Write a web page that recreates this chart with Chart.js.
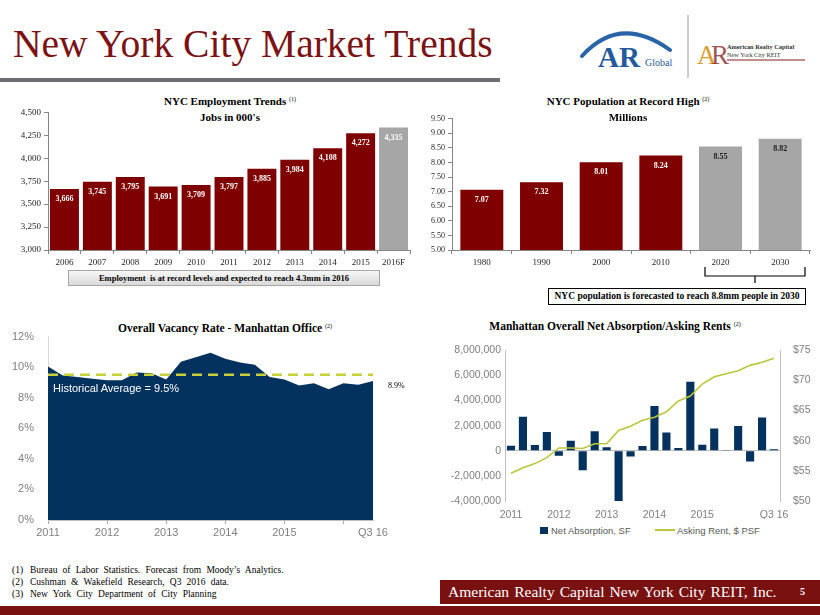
<!DOCTYPE html>
<html>
<head>
<meta charset="utf-8">
<script src="https://cdn.jsdelivr.net/npm/chart.js@4.4.1/dist/chart.umd.min.js"></script>
<style>
body { margin:0; width:820px; height:615px; position:relative; overflow:hidden; background:#fff; font-family:"Liberation Serif", serif; }
.abs { position:absolute; white-space:nowrap; }
.chart { position:absolute; }
.ctitle { position:absolute; font-weight:bold; font-size:11px; text-align:center; color:#000; white-space:nowrap; }
.ctitle sup { font-size:6px; font-weight:normal; vertical-align:4px; }
.note { position:absolute; left:12px; font-size:9.5px; word-spacing:2.8px; color:#000; white-space:nowrap; }
.note span { display:inline-block; width:18px; }
.legend { position:absolute; top:525px; font-family:"Liberation Sans", sans-serif; font-size:9.5px; color:#595959; white-space:nowrap; }
</style>
</head>
<body>

<div class="abs" style="left:13px;top:25px;font-size:39.5px;color:#7b1214;line-height:1;">New York City Market Trends</div>
<div class="abs" style="left:0;top:78px;width:500px;height:4px;background:#6d6e71;"></div>

<svg class="abs" style="left:570px;top:10px;" width="250" height="75" viewBox="570 10 250 75">
  <path d="M582,56 Q620,14 670,50" fill="none" stroke="#2a64a8" stroke-width="4" stroke-linecap="round"/>
  <text x="598" y="67" font-family="Liberation Serif" font-weight="bold" font-size="29" fill="#245a9c">AR</text>
  <text x="645" y="66" font-family="Liberation Serif" font-size="10" fill="#245a9c">Global</text>
  <line x1="688" y1="15" x2="688" y2="78" stroke="#9a9a9a" stroke-width="1"/>
  <text x="697" y="64" font-family="Liberation Serif" font-size="27" fill="#d6a236">A</text>
  <text x="711" y="64" font-family="Liberation Serif" font-size="27" fill="#8a2a2a" opacity="0.8">R</text>
  <text x="727" y="49" font-family="Liberation Serif" font-weight="bold" font-size="6.3" fill="#333">American Realty Capital</text>
  <text x="727" y="57" font-family="Liberation Serif" font-size="6.3" fill="#333">New York City REIT</text>
  <line x1="727" y1="60" x2="805" y2="60" stroke="#8a1c1c" stroke-width="1"/>
</svg>

<!-- top left -->
<div class="ctitle" style="left:120px;top:95px;width:220px;">NYC Employment Trends <sup>(1)</sup></div>
<div class="ctitle" style="left:120px;top:111px;width:220px;">Jobs in 000's</div>
<div class="chart" style="left:0;top:104px;width:412px;height:162px;"><canvas id="jobsChart"></canvas></div>
<div class="abs" style="left:68px;top:270px;width:310px;height:14px;border:1px solid #a6a6a6;background:linear-gradient(#f7f7f7,#d9d9d9);font-size:8.5px;font-weight:bold;text-align:center;line-height:14px;">Employment&nbsp; is at record levels and expected to reach 4.3mm in 2016</div>

<!-- top right -->
<div class="ctitle" style="left:518px;top:95px;width:220px;">NYC Population at Record High <sup>(2)</sup></div>
<div class="ctitle" style="left:518px;top:111px;width:220px;">Millions</div>
<div class="chart" style="left:400px;top:111px;width:412px;height:155px;"><canvas id="popChart"></canvas></div>
<svg class="abs" style="left:700px;top:262px;" width="110" height="26" viewBox="700 262 110 26">
  <path d="M705,267 L705,276 L805,276 L805,267 M755,276 L755,283" fill="none" stroke="#000" stroke-width="1.2"/>
</svg>
<div class="abs" style="left:548px;top:288px;width:256px;height:15px;border:1px solid #000;background:#fff;font-size:9.5px;font-weight:bold;text-align:center;line-height:15px;">NYC population is forecasted to reach 8.8mm people in 2030</div>

<!-- bottom left -->
<div class="ctitle" style="left:95px;top:322px;width:260px;font-size:11.5px;">Overall Vacancy Rate - Manhattan Office <sup>(2)</sup></div>
<div class="chart" style="left:0;top:324px;width:412px;height:216px;"><canvas id="vacChart"></canvas></div>
<div class="abs" style="left:53px;top:382px;font-family:'Liberation Sans',sans-serif;font-size:11px;color:#fff;">Historical Average = 9.5%</div>
<div class="abs" style="left:388px;top:381px;font-size:8px;color:#000;">8.9%</div>

<!-- bottom right -->
<div class="ctitle" style="left:475px;top:320px;width:280px;font-size:11.5px;">Manhattan Overall Net Absorption/Asking Rents <sup>(2)</sup></div>
<div class="chart" style="left:412px;top:339px;width:408px;height:180px;"><canvas id="absChart"></canvas></div>
<div class="legend" style="left:540px;"><span style="display:inline-block;width:8px;height:7px;background:#03325f;margin-right:3px;"></span>Net Absorption, SF</div>
<div class="legend" style="left:655px;"><span style="display:inline-block;width:20px;height:2px;background:#bcc63a;vertical-align:3px;margin-right:2px;"></span>Asking Rent, $ PSF</div>

<!-- footer -->
<div class="note" style="top:565px;"><span>(1)</span>Bureau of Labor Statistics. Forecast from Moody’s Analytics.</div>
<div class="note" style="top:577px;"><span>(2)</span>Cushman &amp; Wakefield Research, Q3 2016 data.</div>
<div class="note" style="top:589px;"><span>(3)</span>New York City Department of City Planning</div>
<div class="abs" style="left:440px;top:580px;width:380px;height:24px;background:#7a1111;color:#fff;font-size:15.5px;word-spacing:1.2px;line-height:24px;">
  <span style="margin-left:8px;">American Realty Capital New York City REIT, Inc.</span>
  <span style="position:absolute;left:360px;font-size:10px;font-weight:bold;">5</span>
</div>
<div class="abs" style="left:0;top:606px;width:820px;height:9px;background:#7a1111;"></div>

<script>
// employment, thousands of jobs
const jobYears = ["2006", "2007", "2008", "2009", "2010", "2011", "2012", "2013", "2014", "2015", "2016F"];
const jobs = [3666, 3745, 3795, 3691, 3709, 3797, 3885, 3984, 4108, 4272, 4335];

// population, millions
const popYears = ["1980", "1990", "2000", "2010", "2020", "2030"];
const population = [7.07, 7.32, 8.01, 8.24, 8.55, 8.82];

// quarterly, Q1 2011 .. Q3 2016
const quarterLabels = ["2011", "", "", "", "2012", "", "", "", "2013", "", "", "", "2014", "", "", "", "2015", "", "", "", "", "", "Q3 16"];
const vacancyRate = [10.05, 9.45, 9.35, 9.25, 9.15, 9.15, 9.65, 9.6, 9.2, 10.35, 10.65, 10.95, 10.55, 10.3, 10.15, 9.35, 9.2, 8.8, 8.95, 8.55, 8.95, 8.85, 9.1];
const historicalAvg = 9.5;
const netAbsorption = [400000, 2700000, 450000, 1500000, -400000, 800000, -1550000, 1550000, 280000, -4000000, -450000, 380000, 3570000, 1450000, 220000, 5500000, 480000, 1780000, 60000, 1980000, -850000, 2650000, 120000];
const askingRent = [54.6, 55.5, 56.2, 57.2, 58.8, 58.8, 58.7, 59.5, 59.5, 61.7, 62.4, 63.4, 63.9, 64.8, 66.6, 67.4, 69.4, 70.6, 71.1, 71.6, 72.5, 73.0, 73.7];

const RED = "#7f0000";
const GREY = "#a6a6a6";
const NAVY = "#03325f";
const LIME = "#c8cf3c";

Chart.defaults.font.family = "'Liberation Serif', serif";
Chart.defaults.animation = false;

function barLabels(colors, fmt, offset) {
    return {
        id: "barLabels",
        afterDatasetsDraw(chart) {
            const ctx = chart.ctx;
            const ds = chart.data.datasets[0];
            ctx.save();
            ctx.font = "bold 8px 'Liberation Serif'";
            ctx.textAlign = "center";
            ctx.textBaseline = "middle";
            chart.getDatasetMeta(0).data.forEach((bar, i) => {
                ctx.fillStyle = colors[i];
                ctx.fillText(fmt(ds.data[i]), bar.x, bar.y + offset);
            });
            ctx.restore();
        }
    };
}

function avgLine(value) {
    return {
        id: "avgLine",
        afterDatasetsDraw(chart) {
            const ctx = chart.ctx;
            const y = chart.scales.y.getPixelForValue(value);
            ctx.save();
            ctx.strokeStyle = LIME;
            ctx.lineWidth = 2.5;
            ctx.setLineDash([10, 6]);
            ctx.beginPath();
            ctx.moveTo(chart.chartArea.left, y);
            ctx.lineTo(chart.chartArea.right, y);
            ctx.stroke();
            ctx.restore();
        }
    };
}

const serifTick = { font: { size: 9 }, color: "#262626" };

// --- employment ---
const jobColors = jobYears.map((y) => (y.endsWith("F") ? GREY : RED));
new Chart(document.getElementById("jobsChart"), {
    type: "bar",
    data: {
        labels: jobYears,
        datasets: [{ data: jobs, backgroundColor: jobColors, categoryPercentage: 1, barPercentage: 0.88 }]
    },
    options: {
        responsive: true,
        maintainAspectRatio: false,
        layout: { padding: { top: 7, right: 2 } },
        plugins: { legend: { display: false }, tooltip: { enabled: false } },
        scales: {
            x: {
                grid: { drawOnChartArea: false, tickLength: 4, color: "#868686" },
                border: { color: "#868686" },
                ticks: serifTick,
                afterFit: (s) => { s.height = 16; }
            },
            y: {
                min: 3000, max: 4500,
                ticks: { ...serifTick, stepSize: 250 },
                grid: { drawOnChartArea: false, tickLength: 4, color: "#868686" },
                border: { color: "#868686" },
                afterFit: (s) => { s.width = 48; }
            }
        }
    },
    plugins: [barLabels(jobYears.map(() => "#fff"), (v) => v.toLocaleString("en-US"), 10)]
});

// --- population ---
const popColors = popYears.map((y) => (+y > 2015 ? GREY : RED));
new Chart(document.getElementById("popChart"), {
    type: "bar",
    data: {
        labels: popYears,
        datasets: [{ data: population, backgroundColor: popColors, categoryPercentage: 1, barPercentage: 0.72 }]
    },
    options: {
        responsive: true,
        maintainAspectRatio: false,
        layout: { padding: { top: 7, right: 2 } },
        plugins: { legend: { display: false }, tooltip: { enabled: false } },
        scales: {
            x: {
                grid: { drawOnChartArea: false, tickLength: 4, color: "#868686" },
                border: { color: "#868686" },
                ticks: serifTick,
                afterFit: (s) => { s.height = 16; }
            },
            y: {
                min: 5, max: 9.5,
                ticks: { ...serifTick, font: { size: 8 }, stepSize: 0.5, callback: (v) => v.toFixed(2) },
                grid: { drawOnChartArea: false, tickLength: 4, color: "#868686" },
                border: { color: "#868686" },
                afterFit: (s) => { s.width = 52; }
            }
        }
    },
    plugins: [barLabels(popColors.map((c) => (c === RED ? "#fff" : "#1a1a1a")), (v) => v.toFixed(2), 10)]
});

const sansTick = { font: { family: "'Liberation Sans', sans-serif", size: 11 }, color: "#7f7f7f" };

// --- vacancy ---
new Chart(document.getElementById("vacChart"), {
    type: "line",
    data: {
        labels: quarterLabels,
        datasets: [{ data: vacancyRate, fill: "origin", backgroundColor: NAVY, borderWidth: 0, pointRadius: 0, tension: 0 }]
    },
    options: {
        responsive: true,
        maintainAspectRatio: false,
        layout: { padding: { top: 7, right: 39 } },
        plugins: { legend: { display: false }, tooltip: { enabled: false } },
        scales: {
            x: {
                offset: false,
                ticks: { ...sansTick, autoSkip: false, maxRotation: 0, padding: 2 },
                grid: { drawOnChartArea: false, tickLength: 4, color: (c) => (c.index % 4 === 0 ? "#a6a6a6" : "rgba(0,0,0,0)") },
                border: { color: "#bfbfbf" },
                afterFit: (s) => { s.height = 20; }
            },
            y: {
                min: 0, max: 12,
                ticks: { ...sansTick, stepSize: 2, padding: 6, callback: (v) => v + "%" },
                grid: { display: false },
                border: { color: "#d9d9d9" },
                afterFit: (s) => { s.width = 48; }
            }
        }
    },
    plugins: [avgLine(historicalAvg)]
});

// --- net absorption / asking rent ---
const absTick = { ...sansTick, font: { family: "'Liberation Sans', sans-serif", size: 10.5 } };
new Chart(document.getElementById("absChart"), {
    data: {
        labels: quarterLabels,
        datasets: [
            { type: "line", data: askingRent, yAxisID: "y1", borderColor: "#bcc63a", borderWidth: 1.6, pointRadius: 0, tension: 0 },
            { type: "bar", data: netAbsorption, yAxisID: "y", backgroundColor: NAVY, categoryPercentage: 1, barPercentage: 0.68 }
        ]
    },
    options: {
        responsive: true,
        maintainAspectRatio: false,
        layout: { padding: { top: 7 } },
        plugins: { legend: { display: false }, tooltip: { enabled: false } },
        scales: {
            x: {
                ticks: { ...absTick, autoSkip: false, maxRotation: 0, padding: 0 },
                grid: { display: false },
                border: { display: false },
                afterFit: (s) => { s.height = 18; }
            },
            y: {
                position: "left",
                min: -4000000, max: 8000000,
                ticks: { ...absTick, stepSize: 2000000, padding: 4 },
                grid: { drawTicks: false, color: (c) => (c.tick && c.tick.value === 0 ? "#bfbfbf" : "rgba(0,0,0,0)") },
                border: { color: "#bfbfbf" },
                afterFit: (s) => { s.width = 93; }
            },
            y1: {
                position: "right",
                min: 50, max: 75,
                ticks: { ...absTick, stepSize: 5, padding: 5, callback: (v) => "$" + v },
                grid: { display: false },
                border: { color: "#bfbfbf" },
                afterFit: (s) => { s.width = 40; }
            }
        }
    }
});
</script>
</body>
</html>
